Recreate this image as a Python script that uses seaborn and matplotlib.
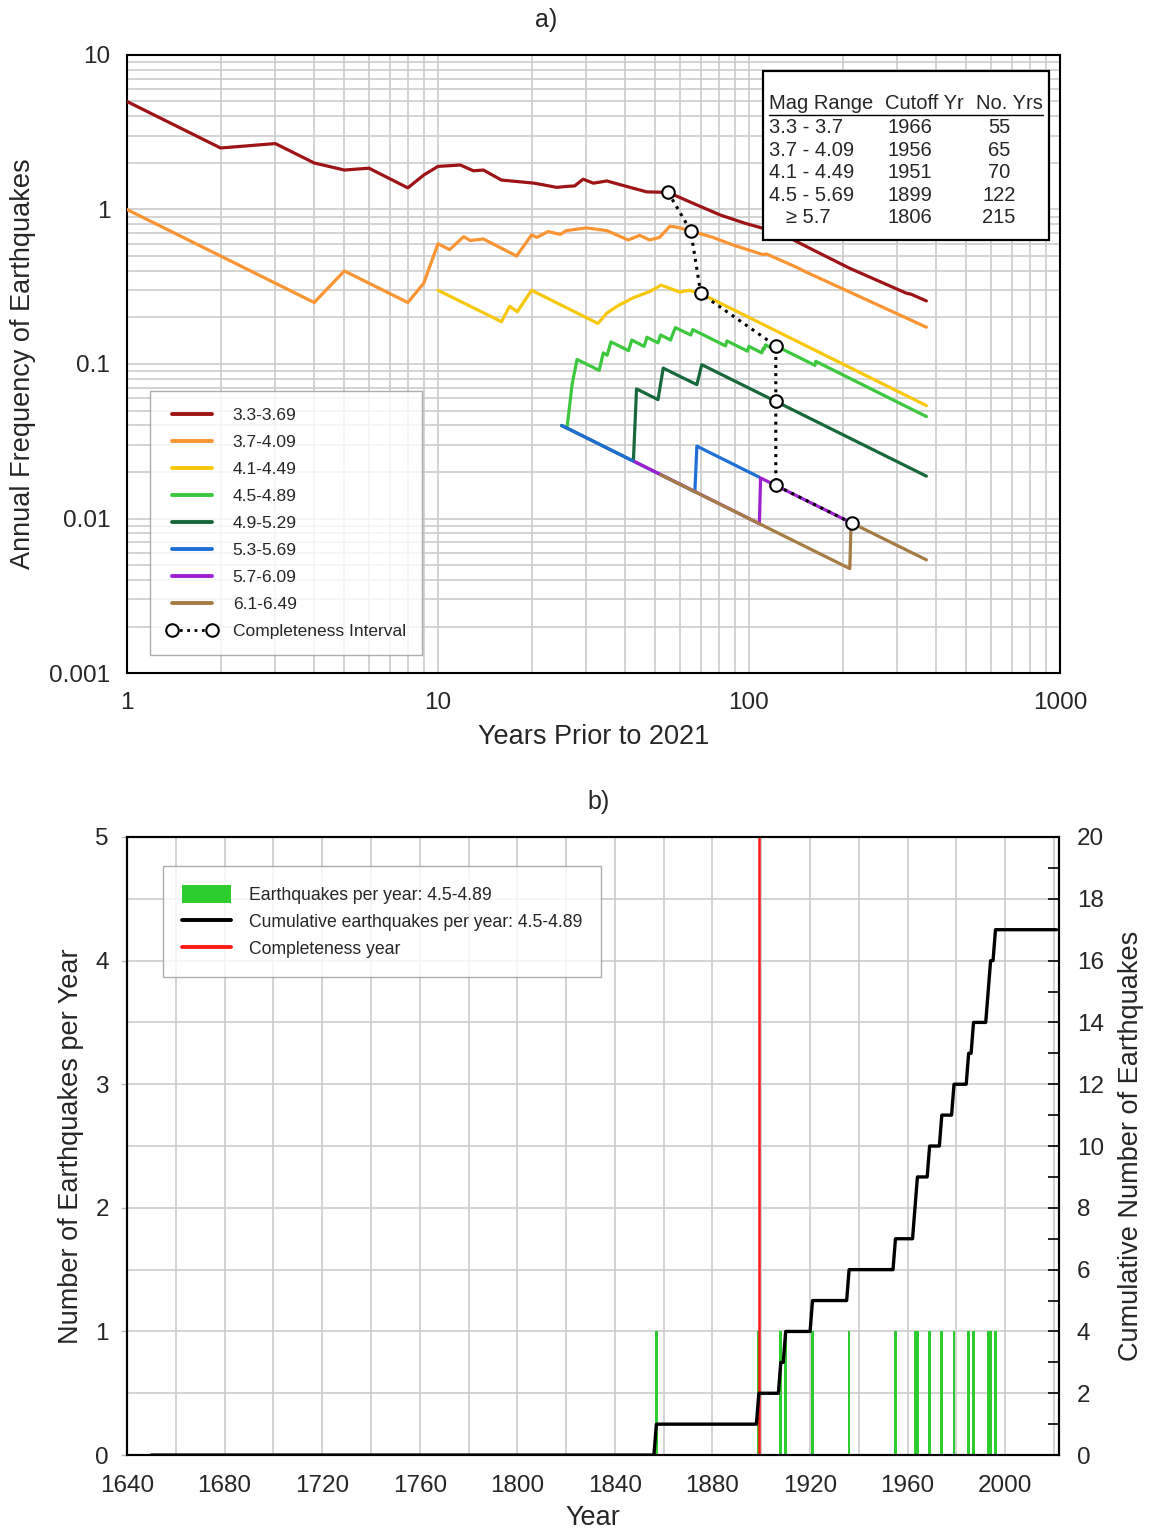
import numpy as np
import matplotlib
matplotlib.use('Agg')
import matplotlib.pyplot as plt
import seaborn as sns
from matplotlib.lines import Line2D
from matplotlib.patches import Patch, Rectangle
from matplotlib.ticker import LogLocator, MultipleLocator, NullFormatter

# ---- panel a) annual frequency vs years prior to 2021 (vertices read off the figure)
MAG_LABELS = ['3.3-3.69', '3.7-4.09', '4.1-4.49', '4.5-4.89',
              '4.9-5.29', '5.3-5.69', '5.7-6.09', '6.1-6.49']
MAG_COLORS = ['#9e1416', '#fb9433', '#f7c80a', '#3cc83c',
              '#17683a', '#1f6fd6', '#a020d0', '#a67c44']

red_T = [1, 2, 3, 4, 5, 6, 8, 9, 10, 11.8, 13, 14, 16, 18.4, 20.4, 24.1, 25.9, 27.5,
         29.3, 31.6, 34.9, 40.4, 46.9, 55, 68, 81, 97, 111, 138, 165, 211, 321, 332, 372]
red_f = [5.0, 2.5, 2.67, 2.0, 1.8, 1.85, 1.38, 1.67, 1.9, 1.94, 1.78, 1.8, 1.55, 1.51,
         1.48, 1.39, 1.41, 1.42, 1.57, 1.48, 1.53, 1.41, 1.30, 1.29, 1.07, 0.92, 0.815,
         0.755, 0.64, 0.533, 0.416, 0.287, 0.283, 0.256]

orange_T = [1, 4, 5, 8, 9, 10, 10.9, 12.1, 12.7, 14, 17.9, 20, 20.8, 22.6, 24.7, 25.9,
            30, 34.9, 40.9, 44.5, 47.9, 51.6, 55.7, 59.2, 65, 76.5, 88.7, 111, 114,
            144, 150, 372]
orange_f = [1.0, 0.25, 0.40, 0.25, 0.333, 0.60, 0.55, 0.667, 0.63, 0.644, 0.50, 0.684,
            0.66, 0.72, 0.69, 0.73, 0.76, 0.73, 0.635, 0.68, 0.635, 0.66, 0.78, 0.765,
            0.726, 0.66, 0.59, 0.51, 0.515, 0.418, 0.40, 0.173]

yellow_T = [10, 16, 17, 18, 20, 32.7, 34.9, 37.6, 42.4, 47.9, 52.2, 60, 64, 70, 372]
yellow_f = [0.30, 0.188, 0.236, 0.218, 0.30, 0.183, 0.213, 0.236, 0.268, 0.294,
            0.324, 0.292, 0.30, 0.286, 0.0538]

lgreen_T = [25, 26, 27, 28, 33, 34, 35, 36, 41, 42, 46, 47, 51, 52, 56, 57, 58, 65, 66,
            84, 85, 99, 100, 110, 111, 112, 113, 121, 122, 163, 164, 372]
lgreen_f = [0.04, 0.0385, 0.074, 0.107, 0.091, 0.118, 0.114, 0.139, 0.122, 0.143,
            0.130, 0.149, 0.137, 0.154, 0.143, 0.158, 0.172, 0.154, 0.167, 0.131,
            0.141, 0.121, 0.13, 0.118, 0.126, 0.125, 0.133, 0.124, 0.131, 0.098,
            0.104, 0.0457]

dgreen_T = [25, 42.5, 43.5, 51, 53, 68, 70.5, 372]
dgreen_f = [0.04, 0.0235, 0.069, 0.0588, 0.094, 0.0735, 0.099, 0.0188]

blue_T = [25, 67, 68, 108]
blue_f = [0.04, 0.0149, 0.0294, 0.0185]

purple_T = [43, 108, 109, 213]
purple_f = [0.0233, 0.00926, 0.0183, 0.0094]

brown_T = [52, 211, 213, 372]
brown_f = [0.0192, 0.00474, 0.0094, 0.0054]

SERIES_T = [red_T, orange_T, yellow_T, lgreen_T, dgreen_T, blue_T, purple_T, brown_T]
SERIES_F = [red_f, orange_f, yellow_f, lgreen_f, dgreen_f, blue_f, purple_f, brown_f]

# completeness interval points
comp_T = [55, 65, 70, 122, 122, 122, 215]
comp_f = [1.29, 0.726, 0.286, 0.131, 0.0574, 0.0164, 0.0093]

# table of completeness
TABLE_HEADER = ['Mag Range', 'Cutoff Yr', 'No. Yrs']
table_mag = ['3.3 - 3.7', '3.7 - 4.09', '4.1 - 4.49', '4.5 - 5.69', '\u2265 5.7']
table_cutoff = ['1966', '1956', '1951', '1899', '1806']
table_nyrs = ['55', '65', '70', '122', '215']

# ---- panel b) earthquakes 4.5-4.89 per year
quake_years = [1857, 1899, 1908, 1910, 1921, 1936, 1955, 1963, 1964, 1969, 1974,
               1979, 1985, 1987, 1993, 1994, 1996]
first_year, last_year = 1650, 2021
completeness_year = 1899

TICK_FS = 17.5
LABEL_FS = 19.5

sns.set_style('white')
plt.rcParams['font.family'] = ['Liberation Sans', 'DejaVu Sans']


def px_ax(px, py, left=127, top=55, w=933, h=618):
    """pixel position in the reference -> axes fraction"""
    return (px - left) / w, 1 - (py - top) / h


fig = plt.figure(figsize=(11.5, 15.31), dpi=100)
ax = fig.add_axes([0.1104, 0.5604, 0.8113, 0.4037])
bx = fig.add_axes([0.1104, 0.0496, 0.8104, 0.4037])

# ================= panel a
for T, f, color in zip(SERIES_T, SERIES_F, MAG_COLORS):
    sns.lineplot(x=T, y=f, ax=ax, color=color, lw=2.3, sort=False,
                 estimator=None, legend=False, zorder=3)

sns.lineplot(x=comp_T, y=comp_f, ax=ax, color='black', lw=2.2, linestyle=':',
             marker='o', markersize=9, markerfacecolor='white',
             markeredgecolor='black', markeredgewidth=1.5, sort=False,
             estimator=None, legend=False, zorder=5)

ax.set(xscale='log', yscale='log')
ax.set_xlim(1, 1000)
ax.set_ylim(0.001, 10)
ax.set_xticks([1, 10, 100, 1000])
ax.set_xticklabels(['1', '10', '100', '1000'])
ax.set_yticks([0.001, 0.01, 0.1, 1, 10])
ax.set_yticklabels(['0.001', '0.01', '0.1', '1', '10'])
for axis in (ax.xaxis, ax.yaxis):
    axis.set_minor_locator(LogLocator(base=10, subs=np.arange(2, 10)))
    axis.set_minor_formatter(NullFormatter())
ax.grid(True, which='both', color='#cccccc', lw=1.2)
ax.set_axisbelow(True)
ax.tick_params(which='both', direction='in', top=False, right=False,
               color='black', width=1.2)
ax.tick_params(which='major', length=10, labelsize=TICK_FS)
ax.tick_params(axis='x', which='major', pad=14)
ax.tick_params(axis='y', which='major', pad=12)
ax.tick_params(which='minor', length=6)
for sp in ax.spines.values():
    sp.set_color('black')
    sp.set_linewidth(1.5)

ax.set_xlabel('Years Prior to 2021', fontsize=LABEL_FS)
ax.set_ylabel('Annual Frequency of Earthquakes', fontsize=LABEL_FS)
ax.xaxis.set_label_coords(0.5, -0.082)
ax.yaxis.set_label_coords(-0.098, 0.5)

handles = [Line2D([], [], color=c, lw=2.8) for c in MAG_COLORS]
handles.append(Line2D([], [], color='black', lw=2, linestyle=':', marker='o',
                      markersize=9, markerfacecolor='white',
                      markeredgecolor='black', markeredgewidth=1.5))
leg = ax.legend(handles, MAG_LABELS + ['Completeness Interval'], loc='lower left',
                bbox_to_anchor=(0.025, 0.029), borderaxespad=0, fontsize=12.5,
                frameon=True, fancybox=False, edgecolor='#999999', numpoints=2,
                handlelength=2.9, handletextpad=0.9, labelspacing=0.68,
                borderpad=0.95)
leg.get_frame().set_linewidth(1.0)
leg.set_zorder(10)

# completeness table
x0, y0 = px_ax(763, 240)
x1, y1 = px_ax(1049, 71)
ax.add_patch(Rectangle((x0, y0), x1 - x0, y1 - y0, transform=ax.transAxes,
                       facecolor='white', edgecolor='black', lw=1.6, zorder=11))
TABLE_FS = 14.5
hy = px_ax(0, 104)[1]
ax.text(px_ax(769, 0)[0], hy, TABLE_HEADER[0], transform=ax.transAxes,
        fontsize=TABLE_FS, va='center', ha='left', zorder=12)
ax.text(px_ax(885, 0)[0], hy, TABLE_HEADER[1], transform=ax.transAxes,
        fontsize=TABLE_FS, va='center', ha='left', zorder=12)
ax.text(px_ax(976, 0)[0], hy, TABLE_HEADER[2], transform=ax.transAxes,
        fontsize=TABLE_FS, va='center', ha='left', zorder=12)
ux0, uy = px_ax(769, 115)
ux1 = px_ax(1043, 0)[0]
ax.add_line(Line2D([ux0, ux1], [uy, uy], transform=ax.transAxes, color='black',
                   lw=1.0, zorder=12))
row_py = [128, 150.5, 173, 195.5, 218]
for i, py in enumerate(row_py):
    ry = px_ax(0, py)[1]
    mx = 786 if table_mag[i].startswith('\u2265') else 769
    ax.text(px_ax(mx, 0)[0], ry, table_mag[i], transform=ax.transAxes,
            fontsize=TABLE_FS, va='center', ha='left', zorder=12)
    ax.text(px_ax(909.5, 0)[0], ry, table_cutoff[i], transform=ax.transAxes,
            fontsize=TABLE_FS, va='center', ha='center', zorder=12)
    ax.text(px_ax(999, 0)[0], ry, table_nyrs[i], transform=ax.transAxes,
            fontsize=TABLE_FS, va='center', ha='center', zorder=12)

# ================= panel b
years = np.arange(first_year, last_year + 1)
per_year = np.array([quake_years.count(y) for y in years])
cumulative = np.cumsum(per_year)

bx.bar(quake_years, [1] * len(quake_years), width=1.1, color='#2fcc2f',
       edgecolor='none', zorder=2)
bx.axvline(completeness_year, color='#ff1a1a', lw=1.8, zorder=3)

bx2 = bx.twinx()
sns.lineplot(x=years, y=cumulative, ax=bx2, color='black', lw=2.4,
             estimator=None, legend=False, zorder=4)

bx.set_xlim(1640, 2022)
bx.set_ylim(0, 5)
bx2.set_ylim(0, 20)
bx.set_xticks(np.arange(1640, 2001, 40))
bx.xaxis.set_minor_locator(MultipleLocator(20))
bx.set_yticks(np.arange(0, 6, 1))
bx.yaxis.set_minor_locator(MultipleLocator(0.5))
bx2.set_yticks(np.arange(0, 21, 2))
bx2.yaxis.set_minor_locator(MultipleLocator(1))
bx.grid(True, which='both', color='#cccccc', lw=1.2)
bx.set_axisbelow(True)
bx2.grid(False)

bx.tick_params(axis='x', which='major', direction='in', length=13, width=1.2,
               labelsize=TICK_FS, pad=14, color='black')
bx.tick_params(axis='x', which='minor', direction='in', length=7, width=1.2,
               color='black')
bx.tick_params(axis='y', which='major', direction='out', length=4, width=1.0,
               labelsize=TICK_FS, pad=9, color='#bbbbbb')
bx.tick_params(axis='y', which='minor', length=0)
bx2.tick_params(axis='y', which='both', direction='in', length=8, width=1.2,
                color='black')
bx2.tick_params(axis='y', which='major', labelsize=TICK_FS, pad=13)
for a in (bx, bx2):
    for sp in a.spines.values():
        sp.set_color('black')
        sp.set_linewidth(1.5)

bx.set_xlabel('Year', fontsize=LABEL_FS)
bx.set_ylabel('Number of Earthquakes per Year', fontsize=LABEL_FS)
bx2.set_ylabel('Cumulative Number of Earthquakes', fontsize=LABEL_FS)
bx.xaxis.set_label_coords(0.5, -0.081)
bx.yaxis.set_label_coords(-0.046, 0.5)
bx2.yaxis.set_label_coords(1.063, 0.5)

b_handles = [Patch(facecolor='#2fcc2f', edgecolor='none'),
             Line2D([], [], color='black', lw=2.8),
             Line2D([], [], color='#ff1a1a', lw=2.8)]
b_labels = ['Earthquakes per year: 4.5-4.89',
            'Cumulative earthquakes per year: 4.5-4.89',
            'Completeness year']
leg2 = bx2.legend(b_handles, b_labels, loc='upper left',
                  bbox_to_anchor=(0.039, 0.953), borderaxespad=0, fontsize=12.7,
                  frameon=True, fancybox=False, edgecolor='#999999',
                  handlelength=2.8, handleheight=1.2, handletextpad=1.0,
                  labelspacing=0.48, borderpad=1.05)
leg2.get_frame().set_linewidth(1.0)

fig.text(546 / 1150, 1 - 20 / 1531, 'a)', ha='center', va='center', fontsize=18)
fig.text(599 / 1150, 1 - 802 / 1531, 'b)', ha='center', va='center', fontsize=18)

fig.savefig('out.png', dpi=100, facecolor='white')
